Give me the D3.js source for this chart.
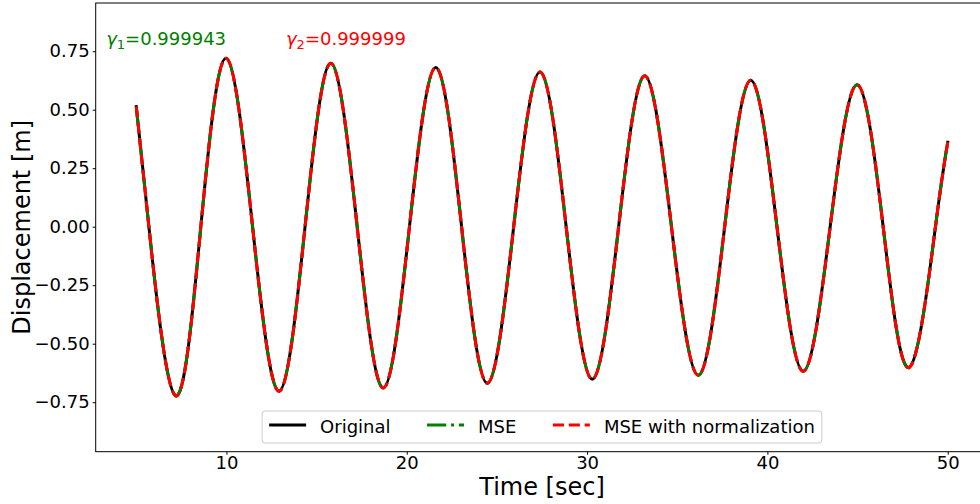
<!DOCTYPE html>
<html>
<head>
<meta charset="utf-8">
<script src="https://cdn.jsdelivr.net/npm/d3@7"></script>
<style>
  html, body { margin: 0; padding: 0; background: #fff; }
  svg { display: block; overflow: hidden; }
</style>
</head>
<body>
<div id="chart"></div>
<script>
// times (s): start, zero crossings and extremes
const timeValues = [
  5.00, 5.70, 7.17, 8.58, 9.98, 11.45, 12.92, 14.36, 15.79, 17.25,
  18.70, 20.15, 21.61, 23.04, 24.47, 25.93, 27.39, 28.84, 30.29, 31.75,
  33.20, 34.68, 36.17, 37.63, 39.08, 40.53, 41.99, 43.48, 44.97, 46.42,
  47.87, 49.32, 50.00
];
// displacement (m)
const originalValues = [
  0.513, 0, -0.722, 0, 0.720, 0, -0.703, 0, 0.698, 0,
  -0.689, 0, 0.680, 0, -0.669, 0, 0.661, 0, -0.652, 0,
  0.645, 0, -0.635, 0, 0.626, 0, -0.618, 0, 0.607, 0,
  -0.601, 0, 0.361
];
// the fitted curves lie on top of the original (gamma ~ 1)
const mseValues = [
  0.513, 0, -0.722, 0, 0.720, 0, -0.703, 0, 0.698, 0,
  -0.689, 0, 0.680, 0, -0.669, 0, 0.661, 0, -0.652, 0,
  0.645, 0, -0.635, 0, 0.626, 0, -0.618, 0, 0.607, 0,
  -0.601, 0, 0.361
];
const mseNormValues = [
  0.513, 0, -0.722, 0, 0.720, 0, -0.703, 0, 0.698, 0,
  -0.689, 0, 0.680, 0, -0.669, 0, 0.661, 0, -0.652, 0,
  0.645, 0, -0.635, 0, 0.626, 0, -0.618, 0, 0.607, 0,
  -0.601, 0, 0.361
];
const seriesNames = ["Original", "MSE", "MSE with normalization"];
const xTicks = [10, 20, 30, 40, 50];
const yTicks = [-0.75, -0.5, -0.25, 0, 0.25, 0.5, 0.75];
const gammaLabels = [
  { sym: "γ", sub: "1", value: "=0.999943", t: 3.33, v: 0.776, color: "green" },
  { sym: "γ", sub: "2", value: "=0.999999", t: 13.3, v: 0.776, color: "red" }
];

(function () {
  const width = 980, height = 504;
  const margin = { left: 95.7, right: 988.3, top: 3, bottom: 451.7 };
  const font = "DejaVu Sans, sans-serif";

  const svg = d3.select("#chart").append("svg")
    .attr("width", width)
    .attr("height", height);

  const x = d3.scaleLinear().domain([2.75, 52.25]).range([margin.left, margin.right]);
  const y = d3.scaleLinear().domain([-0.9615, 0.956]).range([margin.bottom, margin.top]);

  svg.append("clipPath").attr("id", "clip")
    .append("rect")
    .attr("x", margin.left).attr("y", margin.top)
    .attr("width", margin.right - margin.left).attr("height", margin.bottom - margin.top);

  const styles = [
    { values: originalValues, color: "black", dash: null, cap: "square" },
    { values: mseValues, color: "green", dash: "19.2,4.8,3,4.8", cap: "butt" },
    { values: mseNormValues, color: "red", dash: "11.1,4.8", cap: "butt" }
  ];

  const line = d3.line()
    .x(d => x(d[0]))
    .y(d => y(d[1]))
    .curve(d3.curveNatural);

  const plot = svg.append("g").attr("clip-path", "url(#clip)");
  styles.forEach(s => {
    plot.append("path")
      .datum(timeValues.map((t, i) => [t, s.values[i]]))
      .attr("d", line)
      .attr("fill", "none")
      .attr("stroke", s.color)
      .attr("stroke-width", 3)
      .attr("stroke-linejoin", "round")
      .attr("stroke-linecap", s.cap)
      .attr("stroke-dasharray", s.dash);
  });

  // axes
  const xAxis = svg.append("g")
    .attr("transform", `translate(0,${margin.bottom})`)
    .call(d3.axisBottom(x).tickValues(xTicks).tickSizeOuter(0).tickSize(3).tickPadding(2));
  const yAxis = svg.append("g")
    .attr("transform", `translate(${margin.left},0)`)
    .call(d3.axisLeft(y).tickValues(yTicks).tickSizeOuter(0).tickSize(3).tickPadding(3)
      .tickFormat(d => d3.format(".2f")(d).replace("-", "\u2212")));

  [xAxis, yAxis].forEach(g => {
    g.select(".domain").remove();
    g.selectAll("line").attr("stroke", "#000").attr("stroke-width", 1);
    g.selectAll("text")
      .style("font-family", font)
      .style("font-size", "18px")
      .attr("fill", "#000");
  });

  // frame
  svg.append("rect")
    .attr("x", margin.left).attr("y", margin.top)
    .attr("width", margin.right - margin.left).attr("height", margin.bottom - margin.top)
    .attr("fill", "none")
    .attr("stroke", "#000")
    .attr("stroke-width", 1);

  // axis labels
  svg.append("text")
    .attr("x", (margin.left + margin.right) / 2)
    .attr("y", 495)
    .attr("text-anchor", "middle")
    .style("font-family", font)
    .style("font-size", "24px")
    .text("Time [sec]");

  svg.append("text")
    .attr("transform", `translate(30,${(margin.top + margin.bottom) / 2}) rotate(-90)`)
    .attr("text-anchor", "middle")
    .style("font-family", font)
    .style("font-size", "24px")
    .text("Displacement [m]");

  // gamma annotations
  gammaLabels.forEach(g => {
    const t = svg.append("text")
      .attr("x", x(g.t))
      .attr("y", y(g.v))
      .attr("fill", g.color)
      .style("font-family", font)
      .style("font-size", "18px");
    t.append("tspan").style("font-style", "italic").text(g.sym);
    t.append("tspan").attr("dy", 4).style("font-size", "13px").text(g.sub);
    t.append("tspan").attr("dy", -4).text(g.value);
  });

  // legend
  const handleLen = 37, textPad = 14, colSpace = 36.5, padX = 7;
  const legend = svg.append("g");
  const box = legend.append("rect");
  let cx = 0;
  seriesNames.forEach((name, i) => {
    const s = styles[i];
    const hx = cx;
    legend.append("line")
      .attr("x1", hx + (s.cap === "square" ? 1.5 : 0))
      .attr("x2", hx + handleLen - (s.cap === "square" ? 1.5 : 0))
      .attr("y1", 425).attr("y2", 425)
      .attr("stroke", s.color)
      .attr("stroke-width", 3)
      .attr("stroke-linecap", s.cap)
      .attr("stroke-dasharray", s.dash);
    const txt = legend.append("text")
      .attr("x", hx + handleLen + textPad)
      .attr("y", 432.5)
      .style("font-family", font)
      .style("font-size", "18px")
      .text(name);
    cx = hx + handleLen + textPad + txt.node().getComputedTextLength() + colSpace;
  });
  const contentW = cx - colSpace;
  const boxW = contentW + 2 * padX;
  const legendX = (margin.left + margin.right) / 2 - boxW / 2;
  legend.attr("transform", `translate(${legendX + padX},0)`);
  box.attr("x", -padX).attr("y", 411)
    .attr("width", boxW).attr("height", 32)
    .attr("rx", 3)
    .attr("fill", "white").attr("fill-opacity", 0.8)
    .attr("stroke", "#cccccc").attr("stroke-width", 1);
})();
</script>
</body>
</html>
